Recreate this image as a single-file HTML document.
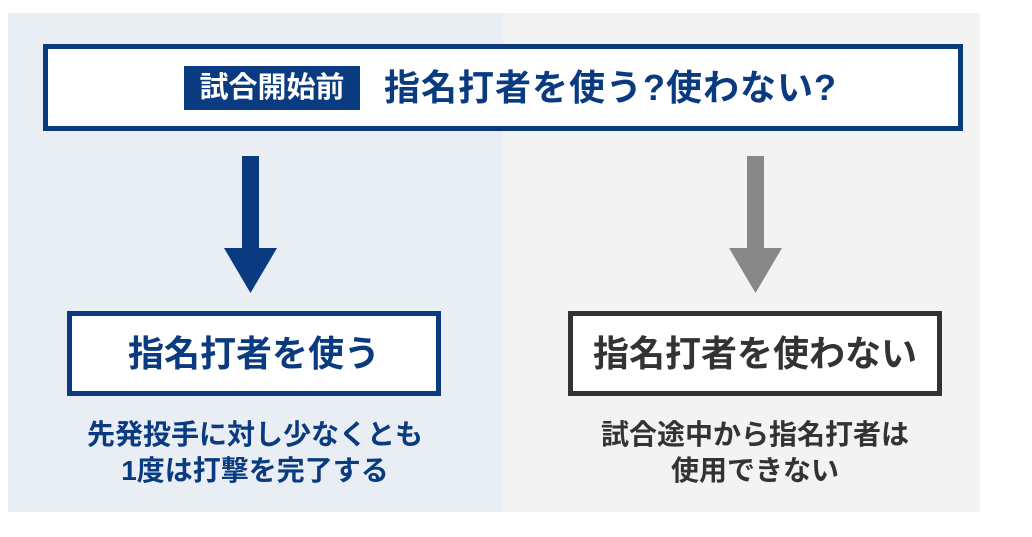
<!DOCTYPE html>
<html><head><meta charset="utf-8"><style>
body{margin:0;width:1032px;height:537px;background:#fff;position:relative;overflow:hidden;font-family:"Liberation Sans","Noto Sans CJK JP",sans-serif;font-weight:bold}
div{position:absolute;box-sizing:border-box}
.t{text-align:center;white-space:nowrap}
</style></head><body>
<div style="left:8px;top:13px;width:495px;height:499px;background:#e9eef5"></div>
<div style="left:503px;top:13px;width:477px;height:499px;background:#f3f3f3"></div>
<div style="left:43px;top:44px;width:920px;height:87px;background:#fff;border:5px solid #0a3a80"></div>
<div class="t" style="left:184px;top:66px;width:176px;height:44px;background:#0a3a80;color:#fff;font-size:29px;line-height:44px;letter-spacing:0px">試合開始前</div>
<div class="t" style="left:384px;top:64px;width:480px;height:48px;color:#0a3a80;font-size:36px;line-height:48px;text-align:left;letter-spacing:1px">指名打者を使う?使わない?</div>
<svg style="position:absolute;left:0;top:0" width="1032" height="537">
<rect x="242" y="156" width="17" height="94" fill="#0a3a80"/><polygon points="224,248 277,248 250.5,293" fill="#0a3a80"/>
<rect x="747" y="156" width="17" height="94" fill="#888"/><polygon points="729,248 782,248 755.5,293" fill="#888"/>
</svg>
<div class="t" style="left:67px;top:311px;width:374px;height:85px;background:#fff;border:5px solid #0a3a80;color:#0a3a80;font-size:36px;line-height:75px">指名打者を使う</div>
<div class="t" style="left:568px;top:311px;width:374px;height:85px;background:#fff;border:5px solid #333;color:#333;font-size:36px;line-height:75px">指名打者を使わない</div>
<div class="t" style="left:55px;top:417px;width:400px;color:#0a3a80;font-size:28px;line-height:36px">先発投手に対し少なくとも<br>1度は打撃を完了する</div>
<div class="t" style="left:555px;top:417px;width:400px;color:#333;font-size:28px;line-height:36px">試合途中から指名打者は<br>使用できない</div>
</body></html>
